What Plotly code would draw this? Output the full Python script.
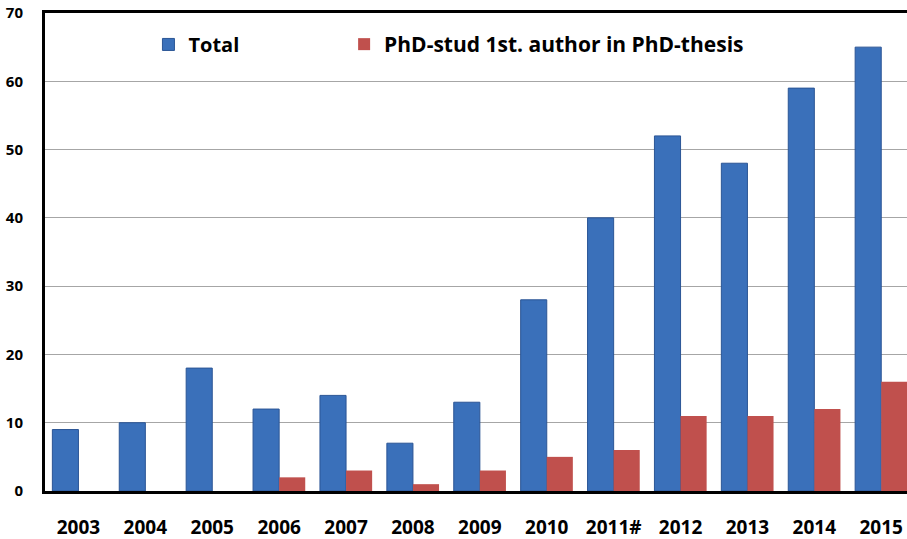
import plotly.graph_objects as go

years = ["2003", "2004", "2005", "2006", "2007", "2008", "2009", "2010", "2011#", "2012", "2013", "2014", "2015"]
total = [9, 10, 18, 12, 14, 7, 13, 28, 40, 52, 48, 59, 65]
phd_first = [0, 0, 0, 2, 3, 1, 3, 5, 6, 11, 11, 12, 16]

FONT = "Open Sans"

fig = go.Figure()
fig.add_trace(go.Bar(
    x=years, y=total, name="Total",
    marker=dict(color="#3A70BA", line=dict(color="#2B5595", width=1)),
    legend="legend",
))
fig.add_trace(go.Bar(
    x=years, y=phd_first, name="PhD-stud 1st. author in PhD-thesis",
    marker=dict(color="#C0504D", line=dict(width=0)),
    legend="legend2",
))

fig.update_layout(
    width=907, height=539,
    margin=dict(l=45, r=0, t=13, b=48),
    paper_bgcolor="white", plot_bgcolor="white",
    barmode="group", bargap=0.22, bargroupgap=0,
    font=dict(family=FONT, color="black"),
    showlegend=True,
    legend=dict(
        x=0.12, xanchor="left", y=0.975, yanchor="top",
        font=dict(family=FONT, size=20, weight="bold", color="black"),
        bgcolor="rgba(0,0,0,0)",
    ),
    legend2=dict(
        x=0.347, xanchor="left", y=0.977, yanchor="top",
        font=dict(family=FONT, size=21, weight="bold", color="black"),
        bgcolor="rgba(0,0,0,0)",
    ),
    xaxis=dict(
        type="category", range=[-0.5, 12.385],
        showline=True, linecolor="black", linewidth=3, mirror=True,
        ticks="", showgrid=False,
        tickfont=dict(family=FONT, size=19, weight="bold", color="black"),
        ticklabelstandoff=17,
    ),
    yaxis=dict(
        range=[0, 70], dtick=10,
        showline=True, linecolor="black", linewidth=3,
        showgrid=True, gridcolor="#A6A6A6", gridwidth=1,
        zeroline=False, ticks="",
        tickfont=dict(family=FONT, size=15, weight="bold", color="black"),
        ticklabelstandoff=16,
    ),
)

fig.write_html("out.html", config={"displayModeBar": False},
               post_script="document.body.style.margin='0';")
